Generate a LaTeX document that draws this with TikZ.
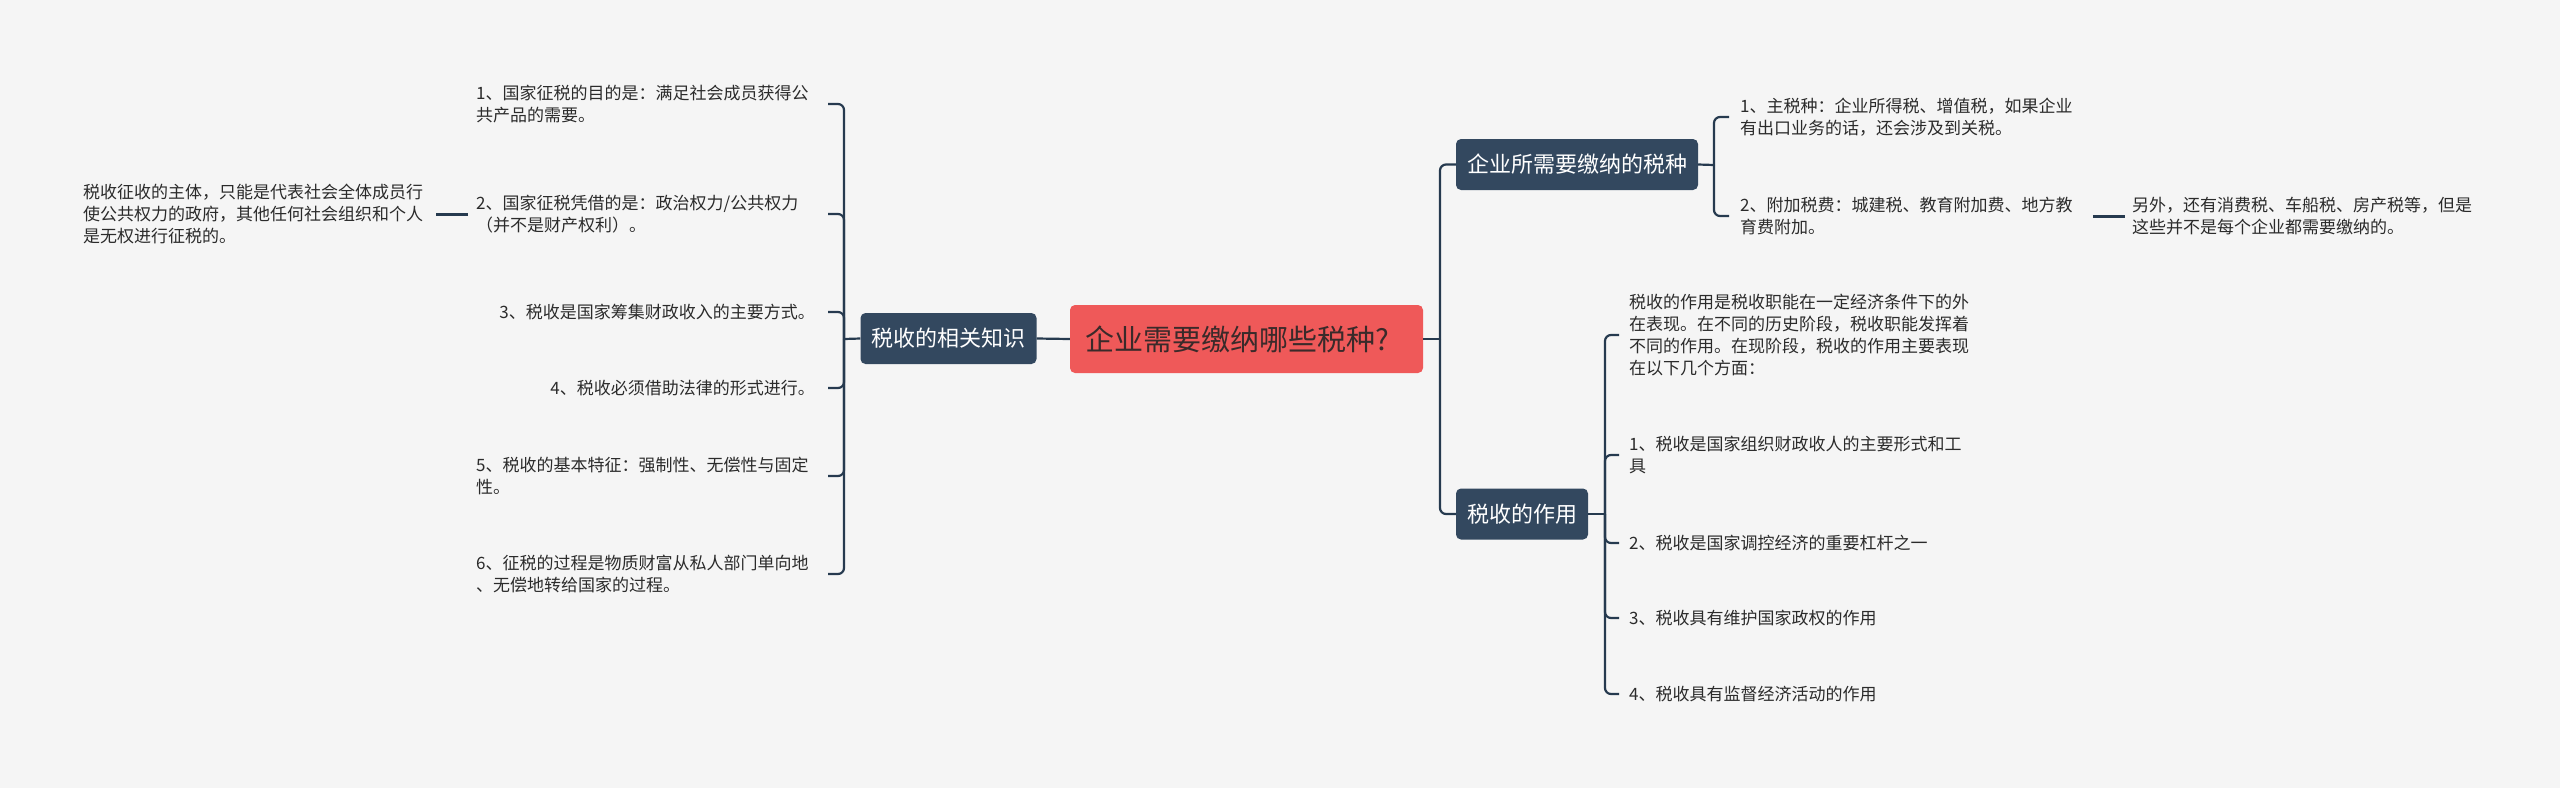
\documentclass[tikz,border=0pt]{standalone}
\usepackage{fontspec}
\setmainfont{Noto Sans CJK SC}
\usetikzlibrary{calc}
\definecolor{bg}{HTML}{F5F5F5}
\definecolor{navy}{HTML}{33485F}
\definecolor{linec}{HTML}{263A4F}
\definecolor{redc}{HTML}{EF5959}
\definecolor{txt}{HTML}{2B2B2B}
\definecolor{cent}{HTML}{3A2A2A}
\begin{document}
\begin{tikzpicture}[x=1pt,y=-1pt,
  conn/.style={draw=linec, line width=2.2pt, rounded corners=6pt},
  leafline/.style={draw=linec, line width=3pt},
  mainbox/.style={fill=navy, rounded corners=5pt, text=white, font=\fontsize{22}{26}\selectfont, minimum height=51pt, inner xsep=11pt, inner ysep=0pt},
  leaf/.style={text=txt, font=\fontsize{17}{22}\selectfont, inner sep=0pt, align=left},
]
\fill[bg] (0,0) rectangle (2560,788);
\useasboundingbox (0,0) rectangle (2560,788);

% central
\node[fill=redc, rounded corners=5pt, minimum width=353pt, minimum height=68pt, text width=323pt, inner xsep=15pt, inner ysep=0pt, align=left, text=cent, font=\fontsize{29}{34}\selectfont] (C) at (1246.5,339) {企业需要缴纳哪些税种?};

% main topics
\node[mainbox] (L) at (948.5,338.5) {税收的相关知识};
\node[mainbox] (T) at (1577,164.5) {企业所需要缴纳的税种};
\node[mainbox] (B) at (1522,514) {税收的作用};

% left children
\node[leaf, anchor=west] (l1) at (476,104) {1、国家征税的目的是：满足社会成员获得公\\共产品的需要。};
\node[leaf, anchor=west] (l2) at (476,214) {2、国家征税凭借的是：政治权力/公共权力\\（并不是财产权利）。};
\node[leaf, anchor=east] (l3) at (815,312) {3、税收是国家筹集财政收入的主要方式。};
\node[leaf, anchor=east] (l4) at (815,388) {4、税收必须借助法律的形式进行。};
\node[leaf, anchor=west] (l5) at (476,476) {5、税收的基本特征：强制性、无偿性与固定\\性。};
\node[leaf, anchor=west] (l6) at (476,574) {6、征税的过程是物质财富从私人部门单向地\\、无偿地转给国家的过程。};
\node[leaf, anchor=west] (ll) at (83,214) {税收征收的主体，只能是代表社会全体成员行\\使公共权力的政府，其他任何社会组织和个人\\是无权进行征税的。};

% right top children
\node[leaf, anchor=west] (rA) at (1740,117) {1、主税种：企业所得税、增值税，如果企业\\有出口业务的话，还会涉及到关税。};
\node[leaf, anchor=west] (rB) at (1740,216) {2、附加税费：城建税、教育附加费、地方教\\育费附加。};
\node[leaf, anchor=west] (rX) at (2132,216) {另外，还有消费税、车船税、房产税等，但是\\这些并不是每个企业都需要缴纳的。};

% right bottom children
\node[leaf, anchor=west] (ba) at (1629,335) {税收的作用是税收职能在一定经济条件下的外\\在表现。在不同的历史阶段，税收职能发挥着\\不同的作用。在现阶段，税收的作用主要表现\\在以下几个方面：};
\node[leaf, anchor=west] (bb) at (1629,455) {1、税收是国家组织财政收人的主要形式和工\\具};
\node[leaf, anchor=west] (bc) at (1629,543) {2、税收是国家调控经济的重要杠杆之一};
\node[leaf, anchor=west] (bd) at (1629,618) {3、税收具有维护国家政权的作用};
\node[leaf, anchor=west] (be) at (1629,694) {4、税收具有监督经济活动的作用};

% connectors left
\draw[conn] (C.west) -- (L.east);
\coordinate (Lj) at (844,339);
\coordinate (Lh) at (828,0);
\draw[conn] (L.west) -- (Lj);
\foreach \n in {l1,l2,l3,l4,l5,l6} \draw[conn] (Lj) |- (\n.east -| Lh);
\draw[leafline] ([xshift=-8pt]l2.west) -- ([xshift=13pt]ll.east);

% connectors right
\coordinate (Rj) at (1440,339);
\draw[conn] (C.east) -- (Rj);
\draw[conn] (Rj) |- (T.west);
\draw[conn] (Rj) |- (B.west);

\coordinate (Tj) at (1714,165);
\coordinate (Th) at (1729,0);
\draw[conn] (T.east) -- (Tj);
\foreach \n in {rA,rB} \draw[conn] (Tj) |- (\n.west -| Th);
\draw[leafline] ([xshift=20pt]rB.east) -- ([xshift=-7pt]rX.west);

\coordinate (Bj) at (1605,514);
\coordinate (Bh) at (1619,0);
\draw[conn] (B.east) -- (Bj);
\foreach \n in {ba,bb,bc,bd,be} \draw[conn] (Bj) |- (\n.west -| Bh);
\end{tikzpicture}
\end{document}
